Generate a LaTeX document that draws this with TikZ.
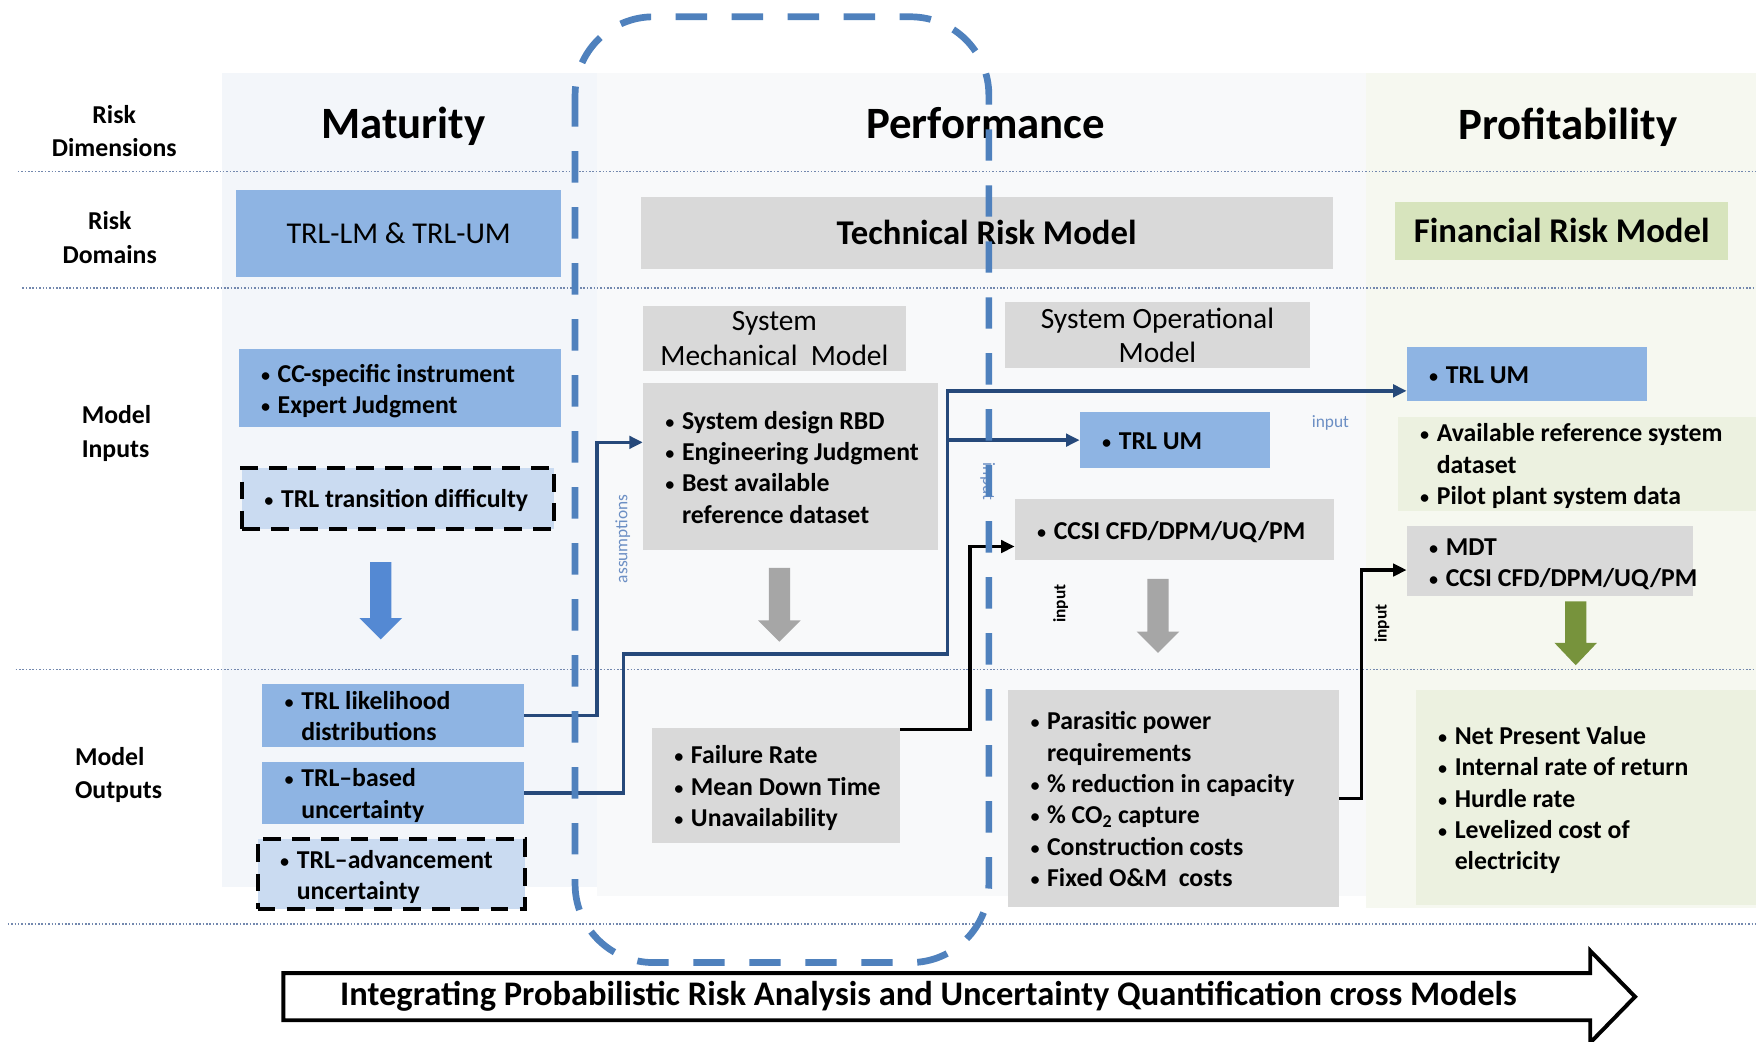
\documentclass[tikz,border=0pt]{standalone}
\usepackage{fontspec}
\setmainfont{Carlito}
\usetikzlibrary{arrows.meta,calc}

\definecolor{boxblue}{HTML}{8EB4E3}
\definecolor{paleblue}{HTML}{CADBF1}
\definecolor{boxgray}{HTML}{D9D9D9}
\definecolor{hdrgreen}{HTML}{D7E4BD}
\definecolor{palegreen}{HTML}{ECF1E0}
\definecolor{bgmat}{HTML}{F3F6FA}
\definecolor{bgperf}{HTML}{F8F9FA}
\definecolor{bgprof}{HTML}{F6F8F0}
\definecolor{linkblue}{HTML}{26497A}
\definecolor{frameblue}{HTML}{4F81BD}
\definecolor{labelblue}{HTML}{6C8FC4}
\definecolor{dotcol}{HTML}{7388AE}
\definecolor{arrblue}{HTML}{5489D3}
\definecolor{arrgray}{HTML}{A6A6A6}
\definecolor{arrgreen}{HTML}{77933C}

% bullet and continuation indent for item lists
\newcommand\bul{\makebox[16pt][l]{\hspace{0.5pt}{\fontsize{19}{19}\selectfont\mdseries\textbullet}}}
\newcommand\cont{\hspace*{16pt}}

% item box: style, name, left, top, right, bottom, lines
\newcommand\itembox[7]{%
  \pgfmathsetmacro\ibw{#5-#3}\pgfmathsetmacro\ibh{#6-#4}%
  \node[#1, minimum width=\ibw pt, minimum height=\ibh pt, anchor=north west] (#2) at (#3,#4)
    {\makebox[\ibw pt][l]{\hspace{19pt}\raisebox{-3pt}[\height][\depth]{\begin{tabular}{@{}l@{}}#7\end{tabular}}}};}

% filled downward block arrow: colour, centre x, top, head base, tip
\newcommand\downblock[5]{%
  \fill[#1] (#2-9.5,#3) -- (#2+9.5,#3) -- (#2+9.5,#4) -- (#2+19,#4) -- (#2,#5)
    -- (#2-19,#4) -- (#2-9.5,#4) -- cycle;}

\begin{document}
\begin{tikzpicture}[x=1pt, y=-1pt,
  every node/.style={inner sep=0pt, outer sep=0pt},
  itemfont/.style={font=\fontsize{23}{28}\selectfont\bfseries},
  bluebox/.style={fill=boxblue, itemfont},
  palebox/.style={fill=paleblue, draw=black, line width=3.5pt, dash pattern=on 16pt off 10pt, itemfont},
  graybox/.style={fill=boxgray, itemfont},
  greenbox/.style={fill=palegreen, itemfont},
  rowlbl/.style={font=\fontsize{23}{30}\selectfont\bfseries},
  title/.style={font=\fontsize{40}{44}\selectfont\bfseries, anchor=base},
  subhdr/.style={fill=boxgray, font=\fontsize{26.3}{31}\selectfont, align=center, anchor=north west},
  conn/.style={draw=linkblue, line width=3pt, -{Triangle[length=12pt,width=11pt]}},
  connk/.style={draw=black, line width=3pt, -{Triangle[length=12pt,width=11pt]}},
  lbl/.style={font=\fontsize{15.5}{18}\selectfont, text=labelblue},
  lblk/.style={font=\fontsize{15.5}{18}\selectfont\bfseries},
  dotline/.style={draw=dotcol, line width=1.4pt, dash pattern=on 1.4pt off 1.6pt},
  frame/.style={draw=frameblue, line width=6pt, rounded corners=70pt, dash pattern=on 28pt off 22pt}
]
\useasboundingbox (0,0) rectangle (1568,930);
\fill[white] (0,0) rectangle (1568,930);

% column backgrounds
\fill[bgmat]  (198,65) rectangle (533,792);
\fill[bgperf] (533,65) rectangle (1220,800);
\fill[bgprof] (1220,65) rectangle (1568,811);

% row separators
\draw[dotline] (16,153) -- (1568,153);
\draw[dotline] (20,257) -- (1568,257);
\draw[dotline] (14,598) -- (1568,598);
\draw[dotline] (7,825) -- (1568,825);

% row labels
\node[rowlbl, align=center] (rdim) at (102,117) {Risk\\Dimensions};
\node[rowlbl, align=center] (rdom) at (98,212) {Risk\\Domains};
\node[rowlbl, align=left, anchor=west] (rin) at (73,387) {Model\\Inputs};
\node[rowlbl, align=left, anchor=west] (rout) at (67,692) {Model\\Outputs};

% column titles
\node[title] (tmat) at (360,124) {Maturity};
\node[title] (tperf) at (880,124) {Performance};
\node[title] (tprof) at (1400,125) {Profitability};

% risk domains
\node[fill=boxblue, minimum width=290pt, minimum height=77pt, anchor=north west,
      font=\fontsize{27}{32}\selectfont] (dmat) at (211,170) {TRL-LM \& TRL-UM};
\node[fill=boxgray, minimum width=618pt, minimum height=64pt, anchor=north west,
      font=\fontsize{31}{34}\selectfont\bfseries] (dperf) at (572,176) {Technical Risk Model};
\node[fill=hdrgreen, minimum width=297pt, minimum height=52pt, anchor=north west,
      font=\fontsize{31}{34}\selectfont\bfseries] (dprof) at (1246,180) {Financial Risk Model};

% sub-model headers
\node[subhdr, minimum width=235pt, minimum height=58pt] (mechhdr) at (574,273) {System\\Mechanical\ \ Model};
\node[subhdr, minimum width=273pt, minimum height=59pt] (ophdr) at (897,270) {System Operational\\Model};

% maturity inputs and outputs
\itembox{bluebox}{minp}{213}{312}{501}{381}{\bul CC-specific instrument\\ \bul Expert Judgment}
\itembox{palebox}{mdiff}{216}{418}{495}{472}{\bul TRL transition difficulty}
\itembox{bluebox}{lik}{234}{611}{468}{661}{\bul TRL likelihood\\ \cont distributions}
\itembox{bluebox}{based}{234}{680}{468}{732}{\bul TRL--based\\ \cont uncertainty}
\itembox{palebox}{adv}{230}{749}{469}{812}{\bul TRL--advancement\\ \cont uncertainty}

% performance inputs and outputs
\itembox{graybox}{mechitems}{574}{342}{838}{491}{\bul System design RBD\\ \bul Engineering Judgment\\ \bul Best available\\ \cont reference dataset}
\itembox{bluebox}{trlo}{964}{368}{1134}{418}{\bul TRL UM}
\itembox{graybox}{ccsi}{906}{446}{1191}{500}{\bul CCSI CFD/DPM/UQ/PM}
\itembox{graybox}{fail}{582}{650}{804}{753}{\bul Failure Rate\\ \bul Mean Down Time\\ \bul Unavailability}
\itembox{graybox}{para}{900}{616}{1196}{810}{\bul Parasitic power\\ \cont requirements\\ \bul \% reduction in capacity\\ \bul \% CO\textsubscript{2} capture\\ \bul Construction costs\\ \bul Fixed O\&M\ \ costs}

% profitability inputs and outputs
\itembox{bluebox}{trlp}{1256}{310}{1471}{358}{\bul TRL UM}
\itembox{greenbox}{refdata}{1248}{372}{1568}{450}{\bul Available reference system\\ \cont dataset\\ \bul Pilot plant system data}
\itembox{graybox}{mdt}{1256}{470}{1512}{532}{\bul MDT\\ \bul CCSI CFD/DPM/UQ/PM}
\itembox{greenbox}{fin}{1264}{616}{1568}{808}{\bul Net Present Value\\ \bul Internal rate of return\\ \bul Hurdle rate\\ \bul Levelized cost of\\ \cont electricity}

% flow arrows from inputs to outputs
\downblock{arrblue}{340}{502}{552}{571}
\downblock{arrgray}{696}{507}{554}{573}
\downblock{arrgray}{1034}{517}{564}{583}
\downblock{arrgreen}{1407}{537}{574}{594}

% connectors
\draw[conn] (lik.east) -- ++(65,0) |- ([yshift=-53pt]mechitems.north west);
\draw[conn] (based.east) -- ++(89,0) -- ++(0,-124) -- ++(289,0) coordinate (jB)
  |- ([yshift=-15pt]trlp.west);
\draw[conn] (jB |- trlo.west) -- (trlo.west);
\draw[connk] ([yshift=-1.5pt]fail.north east) -- ++(62,0) |- ([yshift=-15pt]ccsi.west);
\draw[connk] (para.east) -- ++(20,0) |- ([yshift=-8pt]mdt.west);

% connector labels
\node[lbl, rotate=90] (lassume) at (556,481) {assumptions};
\node[lbl, rotate=-90] (linhid) at (882,430) {input};
\node[lbl] (linop) at (1188,378) {input};
\node[lblk, rotate=90] (linccsi) at (947,539) {input};
\node[lblk, rotate=90] (linmdt) at (1234,557) {input};

% dashed frame around the uncertainty propagation path
\draw[frame] (513.5,15) rectangle (883,859.5);

% integration banner arrow
\draw[line width=3.5pt, fill=white, line join=miter]
  (253,869) -- (1420,869) -- (1420,849) -- (1460,890) -- (1420,931) -- (1420,911) -- (253,911) -- cycle;
\node[font=\fontsize{30.8}{34}\selectfont\bfseries] (banner) at (829,890)
  {Integrating Probabilistic Risk Analysis and Uncertainty Quantification cross Models};
\end{tikzpicture}
\end{document}
